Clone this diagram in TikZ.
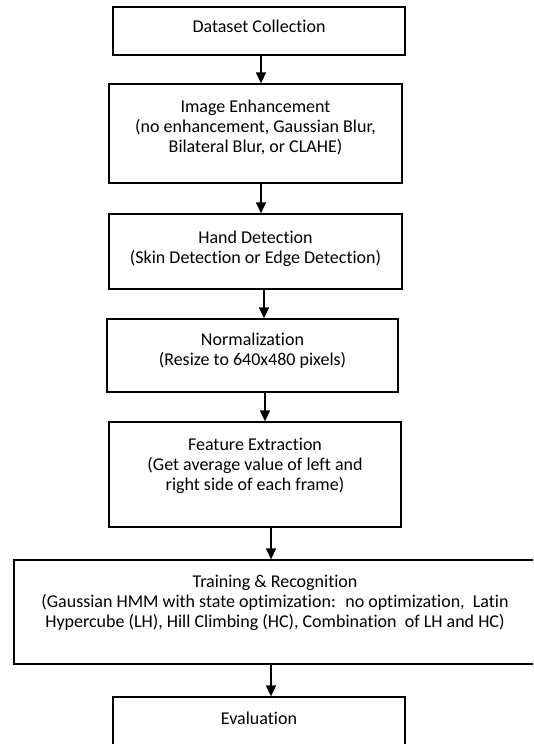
\documentclass[tikz,border=0pt]{standalone}
\usepackage{fontspec}
\setmainfont{Carlito}[Ligatures=CommonOff]
\usetikzlibrary{arrows.meta}
\begin{document}
\begin{tikzpicture}[x=1pt,y=-1pt,
  box/.style={draw=black,line width=1.3pt,rectangle,inner sep=0pt},
  txt/.style={anchor=north,align=center,inner sep=0pt,font=\fontsize{18}{20}\selectfont},
  arr/.style={line width=1.4pt,-{Triangle[width=10pt,length=11pt]}}]
\useasboundingbox[fill=white] (0,0) rectangle (533,744);
\clip (0,0) rectangle (533,744);
\newcommand{\mybox}[5]{\node[box,minimum width={#4-#2},minimum height={#5-#3}] (#1) at ({(#2+#4)/2},{(#3+#5)/2}) {};}
\mybox{b1}{113}{7}{405}{55}
\mybox{b2}{109}{84}{402}{183}
\mybox{b3}{109}{214}{402}{289}
\mybox{b4}{107}{319}{398}{392}
\mybox{b5}{109}{422}{401}{527}
\mybox{b6}{14}{560}{538}{664}
\mybox{b7}{113}{697}{405}{770}
\node[txt] (t1) at ([yshift=-13pt]b1.north) {Dataset Collection};
\node[txt] (t2) at ([yshift=-16pt]b2.north) {Image Enhancement\\(no enhancement, Gaussian Blur,\\Bilateral Blur, or CLAHE)};
\node[txt] (t3) at ([yshift=-17pt]b3.north) {Hand Detection\\(Skin Detection or Edge Detection)};
\node[txt] (t4) at ([yshift=-14pt]b4.north) {Normalization\\(Resize to 640x480 pixels)};
\node[txt] (t5) at ([yshift=-17pt]b5.north) {Feature Extraction\\(Get average value of left and\\right side of each frame)};
\node[txt] (t6) at ([yshift=-16pt,xshift=-1pt]b6.north) {Training \& Recognition\\(Gaussian HMM with state optimization:~ no optimization,~ Latin\\Hypercube (LH), Hill Climbing (HC), Combination~ of LH and HC)};
\node[txt] (t7) at ([yshift=-15pt]b7.north) {Evaluation};
\draw[arr] ([xshift=2pt]b1.south) -- ([xshift=2pt]b1.south |- b2.north);
\draw[arr] ([xshift=5.5pt]b2.south) -- ([xshift=5.5pt]b2.south |- b3.north);
\draw[arr] ([xshift=8.5pt]b3.south) -- ([xshift=8.5pt]b3.south |- b4.north);
\draw[arr] ([xshift=12.5pt]b4.south) -- ([xshift=12.5pt]b4.south |- b5.north);
\draw[arr] ([xshift=16pt]b5.south) -- ([xshift=16pt]b5.south |- b6.north);
\draw[arr] ([xshift=12pt]b7.north |- b6.south) -- ([xshift=12pt]b7.north);
\end{tikzpicture}
\end{document}
